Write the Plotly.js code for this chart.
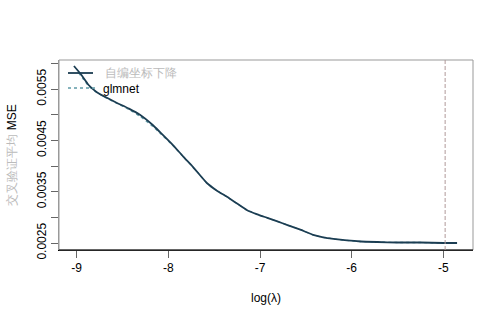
<!DOCTYPE html>
<html><head><meta charset="utf-8">
<script src="https://cdn.plot.ly/plotly-3.0.1.min.js"></script>
<style>body{margin:0;background:#fff}#c{width:504px;height:324px}</style>
</head><body><div id="c"></div>
<script>
// data
const logLambda = [-9.03,-8.95,-8.87,-8.78,-8.67,-8.56,-8.43,-8.31,-8.17,-8.09,-7.95,-7.84,-7.73,-7.58,-7.47,-7.36,-7.25,-7.14,-7.03,-6.92,-6.81,-6.70,-6.56,-6.42,-6.31,-6.20,-6.05,-5.90,-5.72,-5.50,-5.25,-5.00,-4.85];
const mseCustom = [0.00595,0.00578,0.00558,0.00544,0.00533,0.00523,0.00512,0.00500,0.00480,0.00466,0.00441,0.00419,0.00398,0.00367,0.00352,0.00340,0.00327,0.00314,0.00306,0.00299,0.00292,0.00285,0.00276,0.00266,0.00261,0.00258,0.00255,0.00253,0.00252,0.00251,0.00251,0.00250,0.00250];
const logLambdaGlm = [-8.98,-8.93,-8.87,-8.78,-8.67,-8.56,-8.43,-8.31,-8.17,-8.09,-7.95,-7.84,-7.73,-7.58,-7.47,-7.36,-7.25,-7.14,-7.03,-6.92,-6.81,-6.70,-6.56,-6.42,-6.31,-6.20,-6.05,-5.90,-5.72,-5.50,-5.25,-5.00,-4.85];
const mseGlmnet = [0.00582,0.00570,0.00556,0.00543,0.00532,0.00522,0.00510,0.00497,0.00477,0.00464,0.00440,0.00419,0.00398,0.00367,0.00352,0.00340,0.00327,0.00314,0.00306,0.00299,0.00292,0.00285,0.00276,0.00266,0.00261,0.00258,0.00255,0.00253,0.00252,0.00251,0.00251,0.00250,0.00250];
const bestLogLambda = -4.98;
const seriesNames = ["自编坐标下降", "glmnet"];
const xTicks = [-9,-8,-7,-6,-5];
const yTicks = [0.0025,0.003,0.0035,0.004,0.0045,0.005,0.0055,0.006];
const yTickText = ["0.0025","","0.0035","","0.0045","","0.0055",""];

const font = "Liberation Sans, Arial, sans-serif";
const navy = "#1b3d52", teal = "#5f9aa6";
const traces = [
  {x: logLambdaGlm, y: mseGlmnet, type: "scatter", mode: "lines", name: seriesNames[1],
   line: {color: teal, width: 1.3, dash: "dot", shape: "spline", smoothing: 0.5}},
  {x: logLambda, y: mseCustom, type: "scatter", mode: "lines", name: seriesNames[0],
   line: {color: navy, width: 1.8, shape: "spline", smoothing: 0.5}}
];
// plot area: left 59, right 473, top 60, bottom 250
const px = v => (v - 59) / 414, py = v => (250 - v) / 190;
const layout = {
  width: 504, height: 324,
  margin: {l: 59, r: 31, t: 60, b: 74},
  paper_bgcolor: "#fff", plot_bgcolor: "#fff",
  font: {family: font, size: 12, color: "#000"},
  showlegend: false,
  xaxis: {range: [-9.193, -4.676], tickvals: xTicks, ticktext: xTicks.map(String),
          showgrid: false, zeroline: false, showline: true, linecolor: "#000", linewidth: 1,
          ticks: "outside", ticklen: 7, tickcolor: "#666", tickfont: {size: 12},
          title: {text: "log(λ)", font: {size: 12}, standoff: 19}},
  yaxis: {range: [0.002364, 0.006067], tickvals: yTicks, ticktext: yTickText, tickangle: -90,
          showgrid: false, zeroline: false, showline: true, linecolor: "#999", linewidth: 1,
          ticks: "outside", ticklen: 7, tickcolor: "#666", tickfont: {size: 12},
          title: {text: "<span style='color:#bbbbbb'>" + "交叉验证平均" + "</span> MSE", font: {size: 12}, standoff: 16}},
  shapes: [
    {type: "rect", xref: "paper", yref: "paper", x0: 0, x1: 1, y0: 0, y1: 1,
     line: {color: "#999", width: 1}},
    {type: "line", xref: "paper", yref: "paper", x0: 0, x1: 1, y0: 0, y1: 0,
     line: {color: "#000", width: 1}},
    {type: "line", xref: "x", yref: "paper", x0: bestLogLambda, x1: bestLogLambda, y0: 0, y1: 1,
     line: {color: "#b09a9a", width: 1, dash: "4px,2px"}},
    // legend samples
    {type: "line", xref: "paper", yref: "paper", x0: px(68), x1: px(93), y0: py(73), y1: py(73),
     line: {color: navy, width: 1.8}},
    {type: "line", xref: "paper", yref: "paper", x0: px(68), x1: px(97), y0: py(88), y1: py(88),
     line: {color: teal, width: 1.3, dash: "dot"}}
  ],
  annotations: [
    {xref: "paper", yref: "paper", x: px(103), y: py(73), xanchor: "left", yanchor: "middle",
     text: seriesNames[0], showarrow: false, font: {size: 12, color: "#bbbbbb"}},
    {xref: "paper", yref: "paper", x: px(101), y: py(89), xanchor: "left", yanchor: "middle",
     text: seriesNames[1], showarrow: false, font: {size: 12, color: "#000"}}
  ]
};
Plotly.newPlot("c", traces, layout, {displayModeBar: false, staticPlot: true});
</script></body></html>
